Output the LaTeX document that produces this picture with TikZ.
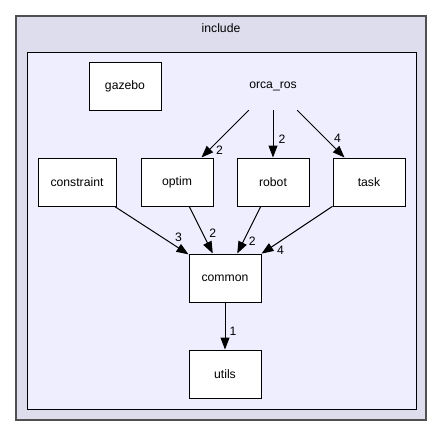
\documentclass[tikz,border=0pt]{standalone}
\usepackage{fontspec}
\setmainfont{Liberation Sans}
\usepackage{xcolor}
\usepackage{tikz}
\usetikzlibrary{arrows.meta}

\definecolor{outerfill}{HTML}{DDDDEE}
\definecolor{innerfill}{HTML}{EEEEFF}
\definecolor{outerline}{HTML}{505050}

\begin{document}
\begin{tikzpicture}[x=1pt, y=-1pt, >={Triangle[length=12pt, width=9pt]},
    every node/.style={font=\fontsize{12.2}{15}\selectfont},
    dirbox/.style={draw, fill=white, line width=1pt, minimum width=72pt, minimum height=48pt, inner sep=0pt},
    edge/.style={->, line width=1pt},
    num/.style={inner sep=0pt}]
    \useasboundingbox (0,0) rectangle (443,436);
    % clusters
    \draw[line width=2pt, outerline, fill=outerfill] (16,16) rectangle (426,420);
    \node (incl) at (221,28) {include};
    \draw[line width=1pt, fill=innerfill] (27,52) rectangle (416,409);
    % directories
    \node[dirbox] (gazebo) at (125,86) {gazebo};
    \node[minimum width=72pt, minimum height=48pt, inner sep=0pt] (orca) at (273,86) {orca\_ros};
    \node[dirbox, minimum width=78pt] (constraint) at (77,182) {constraint};
    \node[dirbox] (optim) at (177,182) {optim};
    \node[dirbox] (robot) at (273,182) {robot};
    \node[dirbox] (task) at (369,182) {task};
    \node[dirbox] (common) at (225,278) {common};
    \node[dirbox] (utils) at (225,374) {utils};
    % dependencies
    \draw[edge] (orca) -- (optim) node[num, at end, xshift=18pt, yshift=7pt] {2};
    \draw[edge] (orca) -- (robot) node[num, at end, xshift=9pt, yshift=18pt] {2};
    \draw[edge] (orca) -- (task) node[num, at end, xshift=-7pt, yshift=19pt] {4};
    \draw[edge] (constraint) -- (common) node[num, at end, xshift=-10pt, yshift=17pt] {3};
    \draw[edge] (optim) -- (common) node[num, at end, xshift=0pt, yshift=20pt] {2};
    \draw[edge] (robot) -- (common) node[num, at end, xshift=15pt, yshift=12pt] {2};
    \draw[edge] (task) -- (common) node[num, at end, xshift=19pt, yshift=3pt] {4};
    \draw[edge] (common) -- (utils) node[num, at end, xshift=8pt, yshift=18pt] {1};
\end{tikzpicture}
\end{document}
